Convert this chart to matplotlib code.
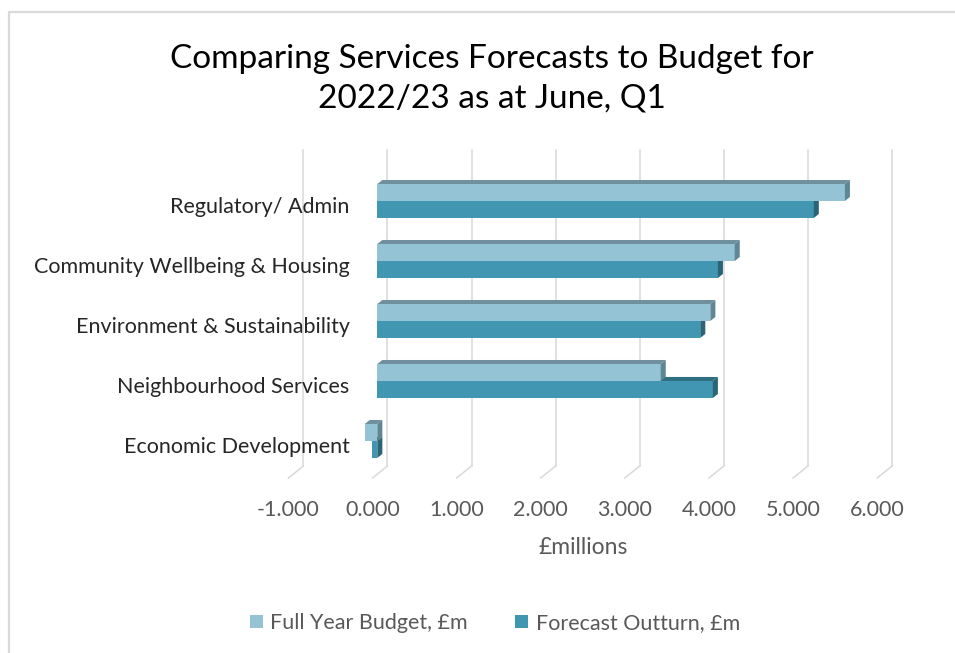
import matplotlib
matplotlib.use("Agg")
import matplotlib.pyplot as plt
from matplotlib.patches import Polygon, Patch
from matplotlib.lines import Line2D

categories = ["Economic Development", "Neighbourhood Services",
              "Environment & Sustainability", "Community Wellbeing & Housing",
              "Regulatory/ Admin"]
budget = [-0.15, 3.37, 3.96, 4.25, 5.56]
forecast = [-0.06, 3.99, 3.84, 4.05, 5.19]
series_names = ["Full Year Budget, £m", "Forecast Outturn, £m"]
xticks = [-1, 0, 1, 2, 3, 4, 5, 6]
title = "Comparing Services Forecasts to Budget for\n2022/23 as at June, Q1"
xlabel = "£millions"

plt.rcParams['font.family'] = ['Lato', 'DejaVu Sans']

W, H = 955, 653
fig = plt.figure(figsize=(W / 100, H / 100), dpi=100)

# chart border (only left and top are visible in the reference)
fig.lines.append(Line2D([8.5 / W, 8.5 / W, 1.0], [0.0, 1 - 11.5 / H, 1 - 11.5 / H],
                        transform=fig.transFigure, color='#D9D9D9', lw=1.6))

ax_l, ax_r, ax_t, ax_b = 288.4, 877.1, 162, 478
ax = fig.add_axes([ax_l / W, 1 - ax_b / H, (ax_r - ax_l) / W, (ax_b - ax_t) / H])
ylim = (-0.55, 4.717)
ax.set_xlim(-1, 6)
ax.set_ylim(*ylim)
for s in ax.spines.values():
    s.set_visible(False)
ax.patch.set_alpha(0)

# depth of the 3D box (data units)
DXB, DYB = 0.178, 0.2
grid_c = '#D9D9D9'
for t in xticks:
    ax.plot([t + DXB, t + DXB], [ylim[0] + DYB, ylim[1] + DYB], color=grid_c, lw=1.1,
            clip_on=False, zorder=0)
    ax.plot([t, t + DXB], [ylim[0], ylim[0] + DYB], color=grid_c, lw=1.1,
            clip_on=False, zorder=0)

# bars
BX, BY = 0.057, 0.067
DDX, DDY = 0.06, 0.067
h = 0.283
cols = {
    'b': ('#93C3D5', '#6F909C', '#5E8694'),
    'f': ('#4196B1', '#2F6F82', '#2A6476'),
}

def bar3d(y0, v, c, z):
    front, top, side = c
    x0, x1 = BX + min(0, v), BX + max(0, v)
    ax.barh(y0 + h / 2, v, height=h, left=BX, color=front, zorder=z, lw=0)
    ax.add_patch(Polygon([(x0, y0 + h), (x1, y0 + h), (x1 + DDX, y0 + h + DDY),
                          (x0 + DDX, y0 + h + DDY)], closed=True, color=top, lw=0,
                         zorder=z))
    ax.add_patch(Polygon([(x1, y0), (x1, y0 + h), (x1 + DDX, y0 + h + DDY),
                          (x1 + DDX, y0 + DDY)], closed=True, color=side, lw=0,
                         zorder=z))

for i, (vb, vf) in enumerate(zip(budget, forecast)):
    yc = i + BY
    bar3d(yc - h, vf, cols['f'], 2 + i * 0.1)
    bar3d(yc, vb, cols['b'], 3 + i * 0.1)

ax.set_xticks(xticks)
ax.set_xticklabels([f"{t:.3f}" for t in xticks])
ax.tick_params(axis='x', length=0, pad=16, labelsize=15.5, labelcolor='#595959')
ax.set_yticks(range(len(categories)))
ax.set_yticklabels(categories)
ax.tick_params(axis='y', length=0, pad=-44, labelsize=15.5, labelcolor='#262626')

ax.set_xlabel(xlabel, fontsize=16.5, color='#595959', labelpad=12)

fig.text(492 / W, 1 - 79 / H, title, ha='center', va='center', fontsize=24,
         color='#000000', linespacing=1.4)

handles = [Patch(facecolor=cols['b'][0]), Patch(facecolor=cols['f'][0])]
fig.legend(handles, series_names, loc='center', bbox_to_anchor=(495 / W, 1 - 623 / H),
           ncol=2, frameon=False, fontsize=15.5, handlelength=0.6, handleheight=0.6,
           handletextpad=0.35, columnspacing=2.2, labelcolor='#595959')

fig.savefig("out.png", dpi=100)
